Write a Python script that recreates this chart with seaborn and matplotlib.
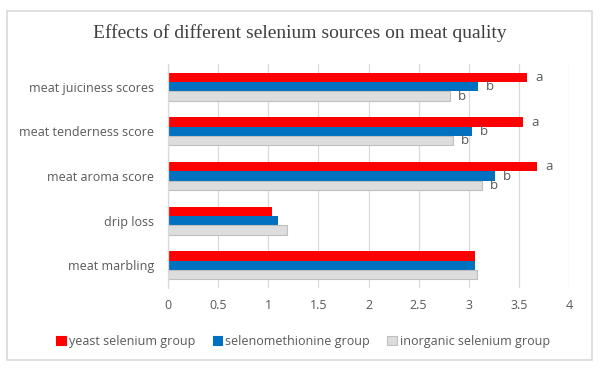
import matplotlib
matplotlib.use("Agg")
import matplotlib.pyplot as plt
import seaborn as sns
import pandas as pd
from matplotlib.patches import Rectangle, Patch

categories = ["meat juiciness scores", "meat tenderness score", "meat aroma score",
              "drip loss", "meat marbling"]
groups = ["yeast selenium group", "selenomethionine group", "inorganic selenium group"]
yeast = [3.58, 3.54, 3.68, 1.04, 3.06]
selenomet = [3.09, 3.03, 3.26, 1.10, 3.06]
inorganic = [2.81, 2.84, 3.13, 1.19, 3.08]
yeast_lbl = ["a", "a", "a", "", ""]
selenomet_lbl = ["b", "b", "b", "", ""]
inorganic_lbl = ["b", "b", "b", "", ""]
xticks = [0, 0.5, 1, 1.5, 2, 2.5, 3, 3.5, 4]
xtick_labels = ["0", "0.5", "1", "1.5", "2", "2.5", "3", "3.5", "4"]

rows = []
for g, vals in zip(groups, [yeast, selenomet, inorganic]):
    for c, v in zip(categories, vals):
        rows.append({"category": c, "group": g, "value": v})
df = pd.DataFrame(rows)

sns.set_theme(style="white")
plt.rcParams['font.family'] = ['Open Sans', 'DejaVu Sans']

colors = {"yeast selenium group": "#FF0000",
          "selenomethionine group": "#0070C0",
          "inorganic selenium group": "#DDDDDD"}
txt = "#595959"

fig = plt.figure(figsize=(6, 3.71), dpi=100)
ax = fig.add_axes([168/600, 1-287.7/371, (569-168)/600, (287.7-64.4)/371])

sns.barplot(data=df, y="category", x="value", hue="group", order=categories,
            hue_order=groups, palette=colors, orient="h", width=0.63,
            ax=ax, legend=False, saturation=1)

for bar in ax.containers[2]:
    bar.set_edgecolor("#BFBFBF")
    bar.set_linewidth(0.8)
for cont in ax.containers[:2]:
    for bar in cont:
        bar.set_linewidth(0)

for cont, lbls in zip(ax.containers, [yeast_lbl, selenomet_lbl, inorganic_lbl]):
    for bar, l in zip(cont, lbls):
        if l:
            ax.annotate(l, (bar.get_width(), bar.get_y() + bar.get_height()/2),
                        xytext=(8, 0), textcoords="offset pixels",
                        ha="left", va="center", fontsize=9.5, color=txt)

ax.set_xlim(0, 4)
ax.set_xticks(xticks)
ax.set_xticklabels(xtick_labels)
ax.set_xlabel("")
ax.set_ylabel("")
ax.grid(axis="x", color="#D9D9D9", linewidth=0.9)
ax.set_axisbelow(True)
for s in ["top", "right", "bottom"]:
    ax.spines[s].set_visible(False)
ax.spines["left"].set_color("#D9D9D9")
ax.spines["left"].set_linewidth(0.9)
ax.tick_params(axis="both", length=0, colors=txt, labelsize=9)
ax.tick_params(axis="x", pad=8)
ax.tick_params(axis="y", pad=10)

fig.text(0.5, 1-33/371, "Effects of different selenium sources on meat quality",
         ha="center", va="center", fontsize=14, color="#404040",
         family=["Liberation Serif", "DejaVu Serif"])

handles = [Patch(facecolor=colors[g], edgecolor=("#BFBFBF" if i == 2 else colors[g]),
                 linewidth=0.8) for i, g in enumerate(groups)]
fig.legend(handles, groups, loc="center", bbox_to_anchor=(0.505, 1-341.5/371), ncol=3,
           frameon=False, fontsize=9, handlelength=0.75, handleheight=0.75,
           handletextpad=0.25, columnspacing=1.4, labelcolor=txt)

fig.patches.append(Rectangle((7/600, 11/371), 585/600, 349/371, transform=fig.transFigure,
                             fill=False, edgecolor="#D9D9D9", linewidth=1.2, figure=fig))

fig.savefig("out.png", dpi=100)
